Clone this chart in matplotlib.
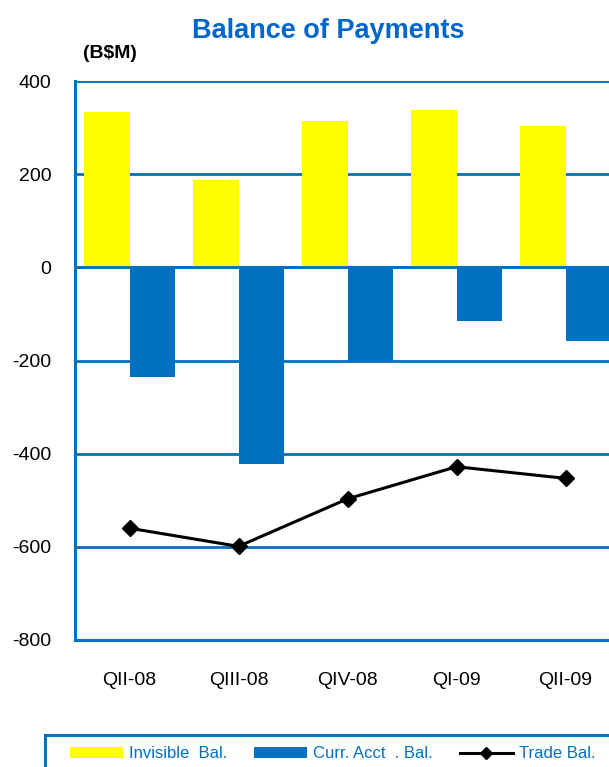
import matplotlib
matplotlib.use("Agg")
import matplotlib.pyplot as plt
import numpy as np
from matplotlib.patches import Patch, Rectangle
from matplotlib.lines import Line2D

# Quarterly balance-of-payments figures (B$M)
quarters = ["QII-08", "QIII-08", "QIV-08", "QI-09", "QII-09"]
invisible_bal = [334, 187, 314, 337, 304]
curr_acct_bal = [-236, -422, -201, -115, -159]
trade_bal = [-560, -599, -497, -428, -453]
y_ticks = [-800, -600, -400, -200, 0, 200, 400]

BLUE = "#0070C0"
YELLOW = "#FFFF00"
SANS = ["Liberation Sans", "DejaVu Sans"]

W, H = 609, 767
fig = plt.figure(figsize=(W / 100, H / 100), dpi=100)
fig.patch.set_facecolor("white")

# plot area (right part runs past the figure edge)
ax = fig.add_axes([75 / W, 1 - 640 / H, 545 / W, 559 / H])
ax.set_facecolor("white")

x = np.arange(len(quarters))
bw = 0.414
ax.bar(x - bw / 2, invisible_bal, width=bw, color=YELLOW, zorder=3,
       label="Invisible  Bal.")
ax.bar(x + bw / 2, curr_acct_bal, width=bw, color=BLUE, zorder=3,
       label="Curr. Acct  . Bal.")
ax.axhline(0, color=BLUE, lw=2.0, zorder=4)
ax.plot(x, trade_bal, color="black", lw=2.2, marker="D", ms=8,
        zorder=5, label="Trade Bal.")

ax.set_xlim(-0.5, len(quarters) - 0.5)
ax.set_ylim(-800, 400)
ax.set_yticks(y_ticks)
ax.set_yticklabels([str(v) for v in y_ticks], family=SANS, fontsize=14)
ax.set_xticks(x)
ax.set_xticklabels(quarters, family=SANS, fontsize=14)
ax.tick_params(axis="y", length=0, pad=17)
ax.tick_params(axis="x", length=0, pad=23)

ax.grid(axis="y", color=BLUE, lw=2.0, zorder=1)
ax.set_axisbelow(True)
for side in ("top", "right"):
    ax.spines[side].set_visible(False)
for side in ("left", "bottom"):
    ax.spines[side].set_color(BLUE)
    ax.spines[side].set_linewidth(2.2)
    ax.spines[side].set_zorder(6)

# title and unit label
fig.text(328 / W, 1 - 38.5 / H, "Balance of Payments", ha="center",
         va="baseline", fontsize=19.5, fontweight="bold", color="#0066CC",
         family=SANS)
fig.text(110 / W, 1 - 53 / H, "(B$M)", ha="center", va="center",
         fontsize=14, fontweight="bold", color="black", family=SANS)

# legend box along the bottom
fig.patches.append(Rectangle((45 / W, -0.1), 1.0, 0.1 + (1 - 735 / H),
                             transform=fig.transFigure, fill=False,
                             edgecolor=BLUE, lw=2.2))
handles = [
    Patch(facecolor=YELLOW, edgecolor="none"),
    Patch(facecolor=BLUE, edgecolor="none"),
    Line2D([], [], color="black", lw=2.2, marker="D", ms=6),
]
labels = ["Invisible  Bal.", "Curr. Acct  . Bal.", "Trade Bal."]
fig.legend(handles, labels, loc="center left",
           bbox_to_anchor=(70 / W, 1 - 754 / H), ncol=3, frameon=False,
           borderpad=0, borderaxespad=0,
           prop={"family": SANS, "size": 12}, labelcolor=BLUE,
           handlelength=3.18, handleheight=0.66, handletextpad=0.36,
           columnspacing=1.62)

fig.savefig("out.png", dpi=100)
